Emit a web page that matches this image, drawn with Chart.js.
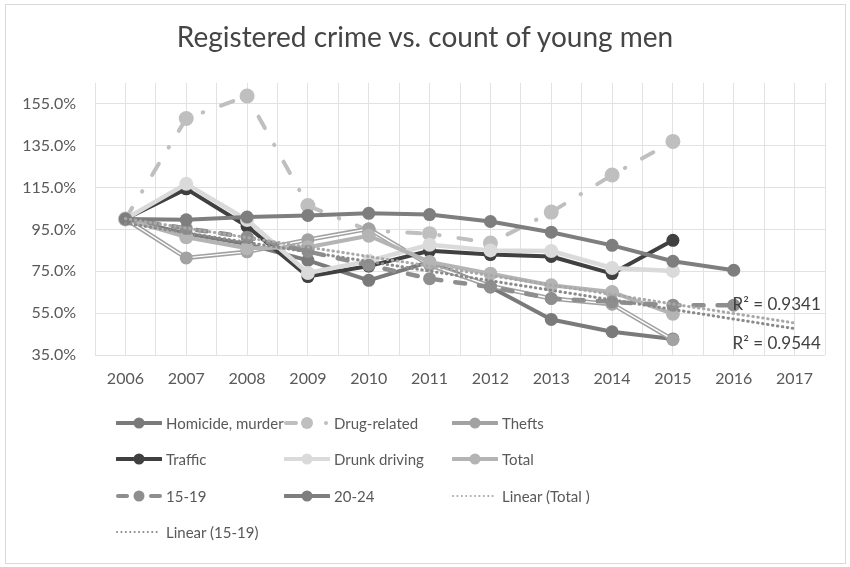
<!DOCTYPE html>
<html><head><meta charset="utf-8">
<script src="https://cdn.jsdelivr.net/npm/chart.js@4.4.1/dist/chart.umd.min.js"></script>
<style>
html,body{margin:0;padding:0;background:#fff;}
#wrap{position:relative;width:850px;height:567px;overflow:hidden;font-family:Lato,"Open Sans",sans-serif;background:#fff;}
#frame{position:absolute;left:5px;top:4px;width:839px;height:558px;border:1px solid #d9d9d9;}
#title{position:absolute;left:0;width:850px;top:22px;text-align:center;font-size:28px;line-height:28px;color:#454545;}
canvas{position:absolute;left:0;top:0;}
.li{position:absolute;display:flex;align-items:center;height:20px;font-size:15px;color:#595959;white-space:nowrap;}
.li svg{margin-right:4px;flex:none;}
.r2{position:absolute;font-size:17px;line-height:20px;color:#404040;white-space:nowrap;}
</style></head>
<body><div id="wrap"><div id="frame"></div><canvas id="c" width="850" height="567"></canvas><div id="title">Registered crime vs. count of young men</div><div id="legend"></div><div id="r2box"></div></div>
<script>
// ---- data (share of 2006 level, %) ----
const years = [2006, 2007, 2008, 2009, 2010, 2011, 2012, 2013, 2014, 2015, 2016];
const homicide = [100, 93, 88, 80.2, 70.7, 79.5, 67.5, 52, 46.1, 42.7];
const drugRelated = [100, 148, 158.8, 106.4, 94.5, 93, 88.5, 103.3, 121, 137.1];
const thefts = [100, 81.4, 84.3, 90.1, 95.3, 78, 68, 62, 59.3, 42.3];
const traffic = [100, 114.4, 96.5, 72.5, 77.5, 84.8, 83, 82.1, 73.9, 89.8];
const drunkDriving = [100, 116.8, 99.5, 74.2, 80, 87.7, 85, 84.7, 76.6, 75.2];
const total = [100, 91.3, 86, 86.5, 92, 79.5, 73.8, 68.3, 65.1, 54.7];
const age15to19 = [100, 95.5, 91.3, 84.5, 77.9, 71.5, 67.5, 62, 60.4, 58.8, 58.8];
const age20to24 = [100, 99.6, 100.9, 101.7, 102.7, 102.1, 98.8, 93.7, 87.4, 79.8, 75.5];
// linear trendlines (start 2006, end 2017)
const trendYears = [2006, 2017];
const trendTotal = [100.2, 50.3];
const trend15to19 = [98, 47.6];
const r2Texts = ['R² = 0.9341', 'R² = 0.9544'];
const yTicks = [35, 55, 75, 95, 115, 135, 155];

const pts = (arr, xs) => arr.map((v, i) => ({x: (xs || years)[i], y: v}));

const C = {
  homicide:'#7a7a7a', drug:'#bfbfbf', thefts:'#a2a2a2', traffic:'#404040',
  drunk:'#dadada', total:'#b4b4b4', a1519:'#8e8e8e', a2024:'#7e7e7e',
  lt:'#a8a8a8', l1519:'#8a8a8a'
};

function line(label, data, color, extra) {
  return Object.assign({
    label, data, borderColor: color, backgroundColor: color,
    pointBackgroundColor: color, pointBorderWidth: 0, pointRadius: 6.5,
    borderWidth: 4, tension: 0, borderJoinStyle: 'round', borderCapStyle: 'round'
  }, extra || {});
}

const ds = [
  line('Homicide, murder', pts(homicide), C.homicide),
  line('Drug-related', pts(drugRelated), C.drug, {borderDash:[13,19,0.5,19], pointRadius:7.5}),
  line('Thefts', pts(thefts), C.thefts, {borderWidth:4.5, pointRadius:0}),
  line('_thefts_stripe', pts(thefts), '#ffffff', {borderWidth:1.4, pointRadius:0}),
  line('_thefts_pts', pts(thefts), C.thefts, {showLine:false, pointRadius:6.5}),
  line('Traffic', pts(traffic), C.traffic),
  line('Drunk driving', pts(drunkDriving), C.drunk, {borderWidth:4.5, pointRadius:7}),
  line('Total', pts(total), C.total, {pointRadius:7}),
  line('15-19', pts(age15to19), C.a1519, {borderDash:[10,14], borderWidth:4.5}),
  line('20-24', pts(age20to24), C.a2024),
  line('Linear (Total )', pts(trendTotal, trendYears), C.lt, {borderDash:[0.5,4.5], borderWidth:3, pointRadius:0}),
  line('Linear (15-19)', pts(trend15to19, trendYears), C.l1519, {borderDash:[0.5,4.5], borderWidth:3, pointRadius:0})
];
// later series on top (Excel order)
ds.forEach((d, i) => { d.order = 100 - i; });

const r2Pos = [{x: 2015.98, y: 59.6}, {x: 2015.98, y: 40.6}];
const r2Plugin = {
  id: 'r2',
  afterDraw(chart) {
    const box = document.getElementById('r2box');
    box.innerHTML = '';
    const xs = chart.scales.x, ys = chart.scales.y;
    r2Texts.forEach((t, i) => {
      const d = document.createElement('div');
      d.className = 'r2';
      d.textContent = t;
      d.style.left = xs.getPixelForValue(r2Pos[i].x) + 'px';
      d.style.top = (ys.getPixelForValue(r2Pos[i].y) - 10) + 'px';
      box.appendChild(d);
    });
  }
};

const font = {family: 'Lato, "Open Sans", sans-serif', size: 16};
new Chart(document.getElementById('c'), {
  type: 'line',
  data: {datasets: ds},
  options: {
    responsive: false, animation: false, devicePixelRatio: 1,
    layout: {padding: {left: 5, right: 25, top: 83, bottom: 182}},
    plugins: {legend: {display: false}, title: {display: false}, tooltip: {enabled: false}},
    scales: {
      x: {
        type: 'linear', min: 2005.5, max: 2017.5,
        afterFit(s) { s.height = 30; },
        ticks: {stepSize: 0.5, autoSkip: false, maxRotation: 0, padding: 14, color: '#595959', font,
          callback: v => Number.isInteger(v) ? String(v) : ''},
        grid: {color: '#e2e2e2', lineWidth: 1, drawTicks: false},
        border: {display: false}
      },
      y: {
        min: 35, max: 165,
        afterFit(s) { s.width = 90; },
        afterBuildTicks(s) { s.ticks = yTicks.map(v => ({value: v})); },
        ticks: {padding: 19, color: '#595959', font, callback: v => v.toFixed(1) + '%'},
        grid: {color: '#e2e2e2', lineWidth: 1, drawTicks: false},
        border: {display: false}
      }
    }
  },
  plugins: [r2Plugin]
});

// ---- HTML legend ----
const legendItems = [
  {t:'Homicide, murder', c:C.homicide, k:'solid', col:0, row:0},
  {t:'Drug-related', c:C.drug, k:'dashdot', col:1, row:0},
  {t:'Thefts', c:C.thefts, k:'solid', col:2, row:0},
  {t:'Traffic', c:C.traffic, k:'solid', col:0, row:1},
  {t:'Drunk driving', c:C.drunk, k:'solid', col:1, row:1},
  {t:'Total', c:C.total, k:'solid', col:2, row:1},
  {t:'15-19', c:C.a1519, k:'dash', col:0, row:2},
  {t:'20-24', c:C.a2024, k:'solid', col:1, row:2},
  {t:'Linear (Total )', c:C.lt, k:'dot', col:2, row:2},
  {t:'Linear (15-19)', c:C.l1519, k:'dot', col:0, row:3}
];
const colX = [116, 284, 452], rowY = [423, 459, 496, 532];
const lg = document.getElementById('legend');
legendItems.forEach(it => {
  let s = '';
  if (it.k === 'solid') s = `<line x1="1" y1="8" x2="45" y2="8" stroke="${it.c}" stroke-width="4" stroke-linecap="round"/><circle cx="23" cy="8" r="5.5" fill="${it.c}"/>`;
  if (it.k === 'dashdot') s = `<line x1="2" y1="8" x2="12" y2="8" stroke="${it.c}" stroke-width="4" stroke-linecap="round"/><circle cx="23" cy="8" r="6" fill="${it.c}"/><circle cx="42" cy="8" r="2" fill="${it.c}"/>`;
  if (it.k === 'dash') s = `<line x1="2" y1="8" x2="11" y2="8" stroke="${it.c}" stroke-width="4" stroke-linecap="round"/><circle cx="23" cy="8" r="5.5" fill="${it.c}"/><line x1="35" y1="8" x2="44" y2="8" stroke="${it.c}" stroke-width="4" stroke-linecap="round"/>`;
  if (it.k === 'dot') s = `<line x1="1" y1="8" x2="45" y2="8" stroke="${it.c}" stroke-width="2" stroke-dasharray="0.1 4.3" stroke-linecap="round"/>`;
  const d = document.createElement('div');
  d.className = 'li';
  d.style.left = colX[it.col] + 'px';
  d.style.top = (rowY[it.row] - 10) + 'px';
  d.innerHTML = `<svg width="46" height="16" viewBox="0 0 46 16">${s}</svg><span>${it.t}</span>`;
  lg.appendChild(d);
});
</script>
</body></html>
